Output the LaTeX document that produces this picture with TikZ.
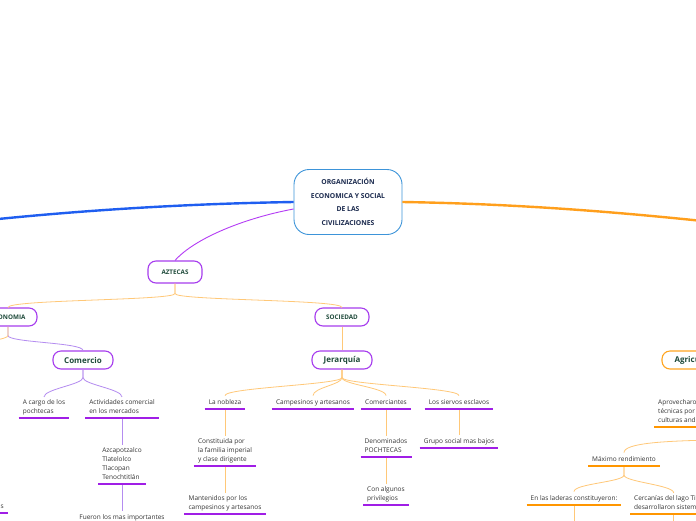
\documentclass[tikz,border=0pt]{standalone}
\usepackage{fontspec}
\setmainfont{Open Sans}
\usetikzlibrary{positioning}
\definecolor{mainB}{HTML}{1F5EF0}
\definecolor{mainO}{HTML}{FF9F1C}
\definecolor{branchP}{HTML}{B43CF5}
\definecolor{boxP}{HTML}{A63CEE}
\definecolor{boxO}{HTML}{FFA51F}
\definecolor{ctrB}{HTML}{3D94D9}
\definecolor{lineO}{HTML}{FFC878}
\definecolor{lineP}{HTML}{B48CF0}
\definecolor{undP}{HTML}{A01EE6}
\definecolor{undO}{HTML}{FF9600}
\definecolor{titleC}{HTML}{1E4A3A}
\definecolor{ctrT}{HTML}{1B2A4E}
\definecolor{leafT}{HTML}{333333}

\tikzset{
  center/.style={draw=ctrB,line width=0.9pt,rounded corners=15pt,fill=white,text=ctrT,
    align=center,font=\bfseries\fontsize{6.8}{13.5}\selectfont,
    minimum width=108pt,minimum height=65pt,inner sep=0pt},
  topic/.style={draw=boxP,line width=1.1pt,rounded corners=8pt,fill=white,text=titleC,
    font=\bfseries\fontsize{6.3}{7}\selectfont,minimum width=54pt,minimum height=18pt,inner sep=0pt},
  subtopic/.style={topic,font=\bfseries\fontsize{8}{9}\selectfont,minimum width=60pt},
  leaf/.style={text=leafT,font=\fontsize{6.5}{9}\selectfont,align=left,
    inner xsep=4pt,inner ysep=2pt,execute at end node=\strut,anchor=south},
  lineO/.style={draw=lineO,line width=0.8pt},
  lineP/.style={draw=lineP,line width=0.8pt},
  undP/.style={draw=undP,line width=1.8pt},
  undO/.style={draw=undO,line width=1.8pt}
}

\begin{document}
\begin{tikzpicture}[x=1pt,y=-1pt]
  % frame
  \useasboundingbox (0,0) rectangle (696,520);
  \fill[white] (0,0) rectangle (696,520);
  \clip (0,0) rectangle (696,520);

  % central idea and main branches
  \node[center] (ctr) at (348,202) {ORGANIZACIÓN\\ECONOMICA Y SOCIAL\\DE LAS\\CIVILIZACIONES};
  \coordinate (offL) at (-40,223);
  \coordinate (offR) at (740,225);
  \draw[mainB,line width=2.4pt] (ctr.west) .. controls (170,204) and (60,212) .. (offL);
  \draw[mainO,line width=2.4pt] (ctr.east) .. controls (530,204) and (640,214) .. (offR);

  % Aztecas
  \node[topic,minimum height=22pt] (azt) at (175,272) {AZTECAS};
  \draw[branchP,line width=0.9pt] ([yshift=-7pt]ctr.west) .. controls (245,218) and (195,238) .. (azt.north);

  \node[topic,minimum width=58pt] (eco) at (8,317) {ECONOMIA};
  \node[topic] (soc) at (342,317) {SOCIEDAD};
  \draw[lineO] (azt.south) -- ++(0,10) .. controls +(0,7) and +(0,-8) .. (eco.north);
  \draw[lineO] (azt.south) -- ++(0,10) .. controls +(0,7) and +(0,-8) .. (soc.north);

  % Economia
  \node[subtopic] (com) at (83,360) {Comercio};
  \coordinate (offE) at (-30,345);
  \draw[lineP] (eco.south) -- ++(0,9) .. controls +(0,7) and +(0,-8) .. (com.north);
  \draw[lineO] (eco.south) -- ++(0,9) .. controls +(0,4) and +(10,-3) .. (offE);

  \node[leaf] (carg) at (44,418) {A cargo de los\\pochtecas};
  \node[leaf] (act) at (122,418) {Actividades comercial\\en los mercados};
  \node[leaf] (azc) at (122,484) {Azcapotzalco\\Tlatelolco\\Tlacopan\\Tenochtitlán};
  \node[leaf] (fue) at (122,524) {Fueron los mas importantes};
  \node[leaf,anchor=south east] (sL) at (8,513) {s};
  \foreach \c in {carg,act}
    \draw[lineP] (com.south) -- ++(0,8) .. controls +(0,7) and +(0,-8) .. (\c.north);
  \draw[lineP] (act.south) -- (azc.north);
  \draw[lineP] (azc.south) -- (fue.north);

  % Sociedad
  \node[subtopic] (jer) at (342,360) {Jerarquía};
  \draw[lineO] (soc.south) -- (jer.north);
  \node[leaf] (nob) at (225,409) {La nobleza};
  \node[leaf] (camp) at (313,409) {Campesinos y artesanos};
  \node[leaf] (cmt) at (386,409) {Comerciantes};
  \node[leaf] (sie) at (459,409) {Los siervos esclavos};
  \foreach \c in {nob,camp,cmt,sie}
    \draw[lineO] (jer.south) -- ++(0,8) .. controls +(0,7) and +(0,-8) .. (\c.north);
  \node[leaf] (const) at (225,466) {Constituida por\\la familia imperial\\y clase dirigente};
  \node[leaf] (mant) at (225,514) {Mantenidos por los\\campesinos y artesanos};
  \node[leaf] (denom) at (386,457) {Denominados\\POCHTECAS};
  \node[leaf] (alg) at (386,505) {Con algunos\\privilegios};
  \node[leaf] (grp) at (459,448) {Grupo social mas bajos};
  \draw[lineO] (nob.south) -- (const.north);
  \draw[lineO] (const.south) -- (mant.north);
  \draw[lineO] (cmt.south) -- (denom.north);
  \draw[lineO] (denom.south) -- (alg.north);
  \draw[lineO] (sie.south) -- (grp.north);

  % Agricultura
  \node[subtopic,draw=boxO,minimum width=70pt] (agr) at (697,360) {Agricultura};
  \node[leaf,anchor=south west] (apr) at (654,427) {Aprovecharon\\técnicas por\\culturas andinas};
  \node[leaf] (max) at (624,466) {Máximo rendimiento};
  \node[leaf] (lad) at (574,505) {En las laderas constituyeron:};
  \node[leaf,anchor=south west] (cer) at (630,514) {Cercanías del lago Titicaca\\desarrollaron sistemas};
  \coordinate (aprB) at (712,440);
  \coordinate (ladB) at (574,530);
  \draw[lineO] (aprB) .. controls (665,441) and (624,443) .. (max.north);
  \foreach \c in {lad,cer}
    \draw[lineO] (max.south) -- ++(0,9) .. controls +(0,7) and +(0,-8) .. (\c.north);
  \draw[lineO] (lad.south) -- (ladB);
  \draw[lineO] (cer.south) -- (cer.south |- ladB);

  % underlines
  \foreach \n in {carg,act,azc,fue,sL,nob,camp,cmt,sie,const,mant,denom,alg,grp}
    \draw[undP] (\n.south west) -- (\n.south east);
  \foreach \n in {apr,max,lad,cer}
    \draw[undO] (\n.south west) -- (\n.south east);
\end{tikzpicture}
\end{document}
